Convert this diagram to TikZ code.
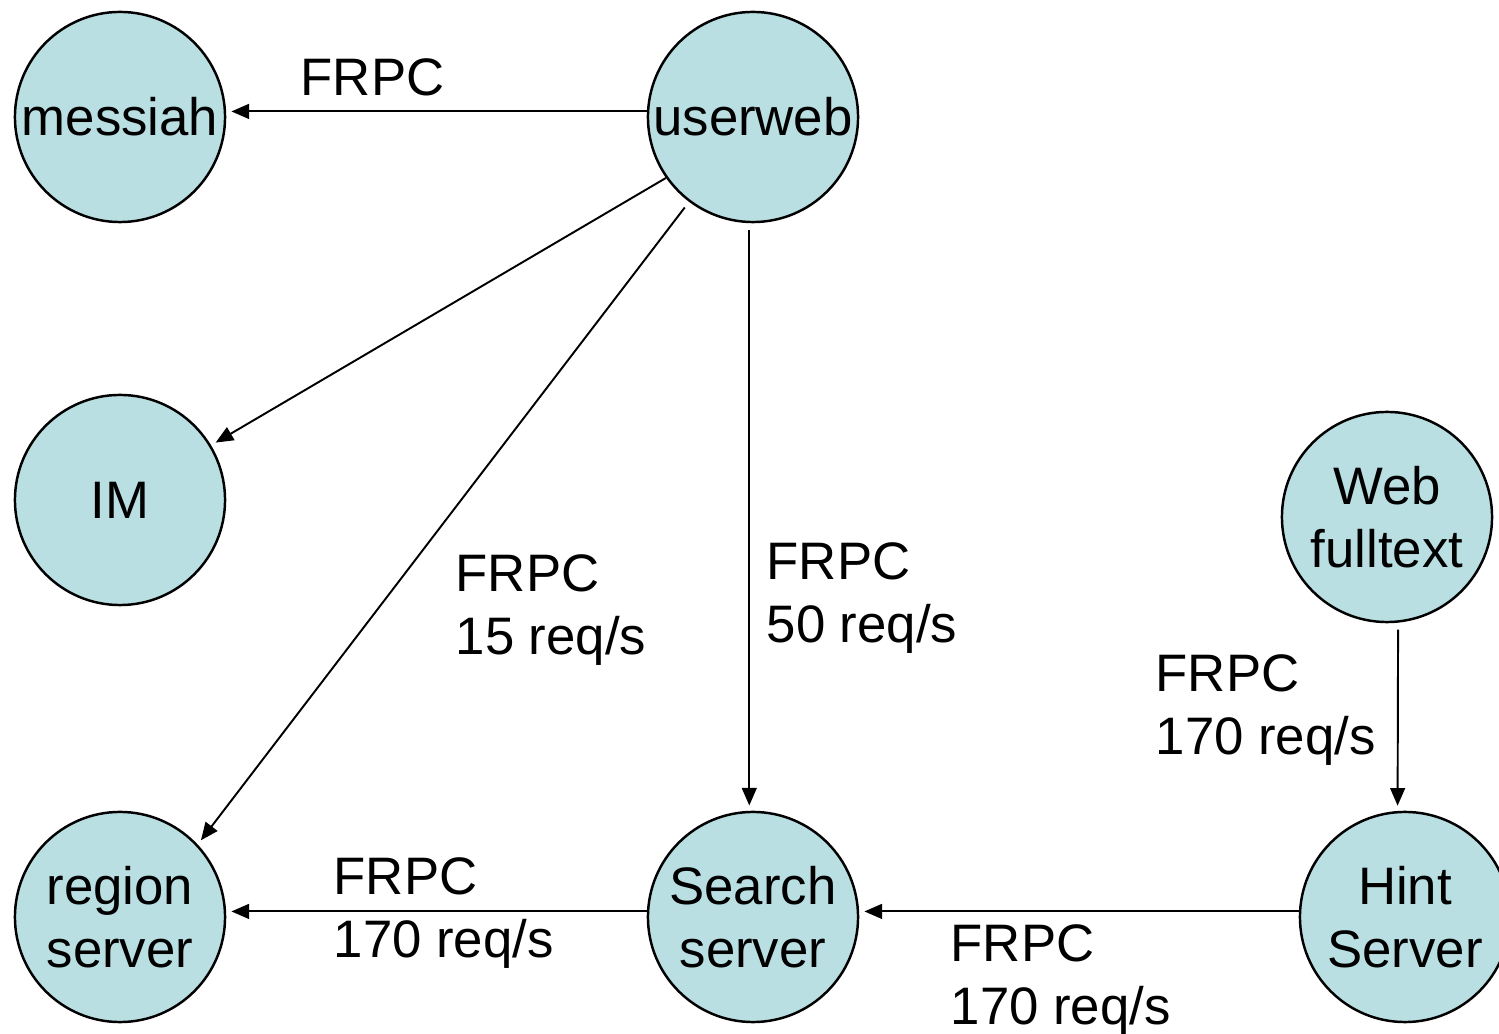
\documentclass[tikz,border=0pt]{standalone}
\usepackage{fontspec}
\setmainfont{Liberation Sans}
\usetikzlibrary{arrows.meta, positioning}
\definecolor{nodeblue}{HTML}{B9DFE3}

\begin{document}
\begin{tikzpicture}[x=0.01cm, y=-0.01cm,
  server/.style={circle, draw, line width=0.7pt, fill=nodeblue, minimum size=2.1cm, inner sep=0pt, align=center, font=\fontsize{15}{18}\selectfont},
  call/.style={-{Triangle[length=5pt, width=4.2pt]}, line width=0.55pt, shorten >=1.5pt},
  rate/.style={anchor=base west, align=left, inner sep=0pt, font=\fontsize{15}{18}\selectfont}]

\useasboundingbox (0,0) rectangle (1499,1034);

% servers
\node[server] (messiah) at (120,117) {messiah};
\node[server] (userweb) at (753,117) {userweb};
\node[server] (im) at (120,500) {IM};
\node[server] (webfull) at (1387,517) {Web\\fulltext};
\node[server] (region) at (120,917) {region\\server};
\node[server] (search) at (753,917) {Search\\server};
\node[server] (hint) at (1405,917) {Hint\\Server};

% calls
\draw[call] (userweb.177) -- (messiah.3);
\draw[call] (userweb.215) -- (im.31);
\draw[call, shorten <=2pt] (userweb.233) -- (region.43);
\draw[call, shorten <=2pt] (userweb.268) -- (search.92);
\draw[call, shorten <=2pt] (webfull.276) -- (hint.94);
\draw[call] (hint.177) -- (search.3);
\draw[call] (search.177) -- (region.3);

% labels (base = last line)
\node[rate] (l1) at (300,96) {FRPC};
\node[rate] (l2) at (455,655) {FRPC\\15 req/s};
\node[rate] (l3) at (766,643) {FRPC\\50 req/s};
\node[rate] (l4) at (1155,755) {FRPC\\170 req/s};
\node[rate] (l5) at (333,958) {FRPC\\170 req/s};
\node[rate] (l6) at (950,1025) {FRPC\\170 req/s};
\end{tikzpicture}
\end{document}
